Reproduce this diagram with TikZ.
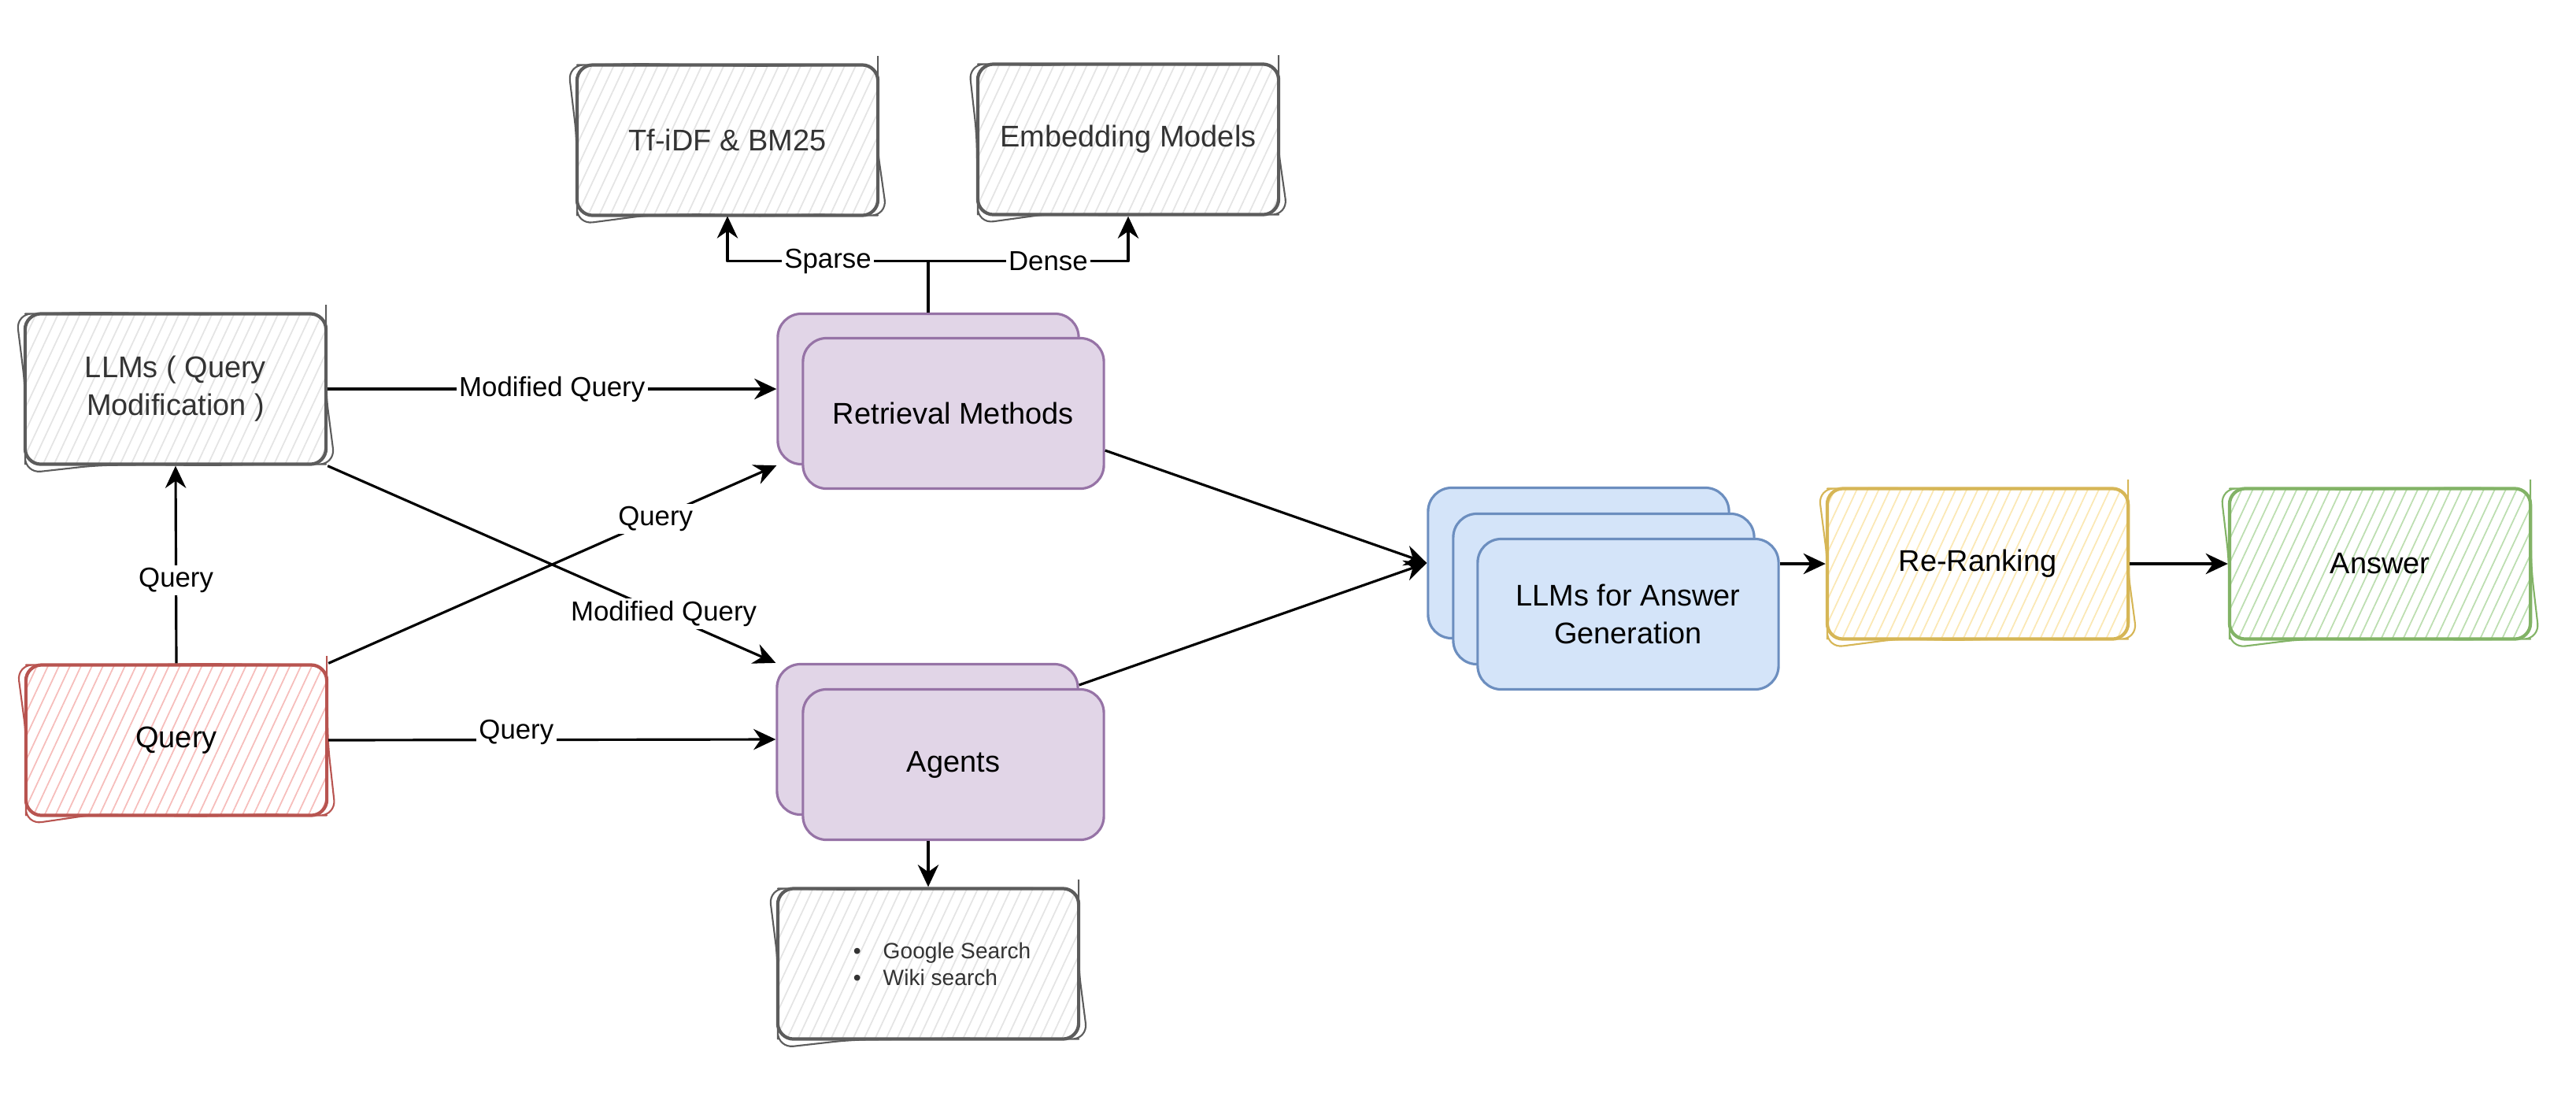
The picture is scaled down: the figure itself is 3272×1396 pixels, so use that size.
\documentclass[tikz,border=0pt]{standalone}
\usepackage{fontspec}
\setmainfont{Liberation Sans}
\usetikzlibrary{arrows.meta,patterns.meta,decorations.pathmorphing}
\definecolor{grayline}{HTML}{5C5C5C}
\definecolor{grayhatch}{HTML}{E4E4E4}
\definecolor{redline}{HTML}{B85450}
\definecolor{redhatch}{HTML}{F6BDBB}
\definecolor{purpleline}{HTML}{9673A6}
\definecolor{purplefill}{HTML}{E1D5E7}
\definecolor{blueline}{HTML}{6C8EBF}
\definecolor{bluefill}{HTML}{D4E4F9}
\definecolor{yellowline}{HTML}{D6B656}
\definecolor{yellowhatch}{HTML}{FBE8B4}
\definecolor{greenline}{HTML}{82B366}
\definecolor{greenhatch}{HTML}{BCDEB0}
\definecolor{textgray}{HTML}{333333}
\begin{document}
\pgfmathsetseed{12}
\begin{tikzpicture}[x=0.01cm,y=-0.01cm,>={Stealth[length=8pt,width=7.5pt]},line join=round,
	box/.style={minimum width=3.82cm,minimum height=1.91cm,inner sep=0pt,align=center,font=\fontsize{10.8}{13.6}\selectfont},
	sketch/.style 2 args={box,draw=#1,line width=1.2pt,rounded corners=0.2cm,
		pattern={Lines[angle=65,distance=3.6pt,line width=0.5pt]},pattern color=#2,
		postaction={draw=#1,line width=0.6pt,decorate,decoration={random steps,segment length=20pt,amplitude=0.45pt}}},
	flat/.style 2 args={box,draw=#1,fill=#2,line width=0.9pt,rounded corners=0.3cm},
	lbl/.style={fill=white,inner sep=1pt,font=\fontsize{9.9}{12}\selectfont},
	link/.style={->,line width=0.9pt}]
	\useasboundingbox (0,0) rectangle (3272,1396);
	% search back ends
	\node[sketch={grayline}{grayhatch},text=textgray] (tfidf) at (924,178) {Tf-iDF \& BM25};
	\node[sketch={grayline}{grayhatch},text=textgray] (embed) at (1433,177) {Embedding Models};
	% inputs
	\node[sketch={grayline}{grayhatch},text=textgray] (llm) at (223,494) {LLMs ( Query\\Modification )};
	\node[sketch={redline}{redhatch}] (query) at (224,940) {Query};
	% stacked boxes
	\node[flat={purpleline}{purplefill}] (retB) at (1179,494) {};
	\node[flat={purpleline}{purplefill}] (ret) at (1211,525) {Retrieval Methods};
	\node[flat={purpleline}{purplefill}] (agB) at (1178,939) {};
	\node[flat={purpleline}{purplefill}] (ag) at (1211,971) {Agents};
	\node[sketch={grayline}{grayhatch},text=textgray,align=left,font=\fontsize{8}{9.7}\selectfont] (tools) at (1179,1224)
		{\hspace*{10pt}\textbullet\hspace{8pt}Google Search\\\hspace*{10pt}\textbullet\hspace{8pt}Wiki search};
	\node[flat={blueline}{bluefill}] (genB) at (2005,715) {};
	\node[flat={blueline}{bluefill}] (genM) at (2037,748) {};
	\node[flat={blueline}{bluefill}] (gen) at (2068,780) {LLMs for Answer\\Generation};
	% output
	\node[sketch={yellowline}{yellowhatch}] (rerank) at (2512,716) {Re-Ranking};
	\node[sketch={greenline}{greenhatch}] (answer) at (3023,716) {Answer};
	% connectors
	\draw[link] (query.north) -- node[lbl,pos=0.42]{Query} (llm.south);
	\draw[link] (llm.east) -- node[lbl]{Modified Query} (retB.west);
	\draw[link] (query.north east) -- node[lbl,pos=0.73]{Query} (retB.south west);
	\draw[link] (llm.south east) -- node[lbl,pos=0.75]{Modified Query} (agB.north west);
	\draw[link] (query.east) -- node[lbl,pos=0.42,yshift=0.1cm]{Query} (agB.west);
	\coordinate (split) at ([yshift=0.65cm]retB.north);
	\draw[line width=0.9pt] (retB.north) -- (split);
	\draw[link] (split) -| node[lbl,pos=0.25]{Sparse} (tfidf.south);
	\draw[link] (split) -| node[lbl,pos=0.3]{Dense} (embed.south);
	\draw[link] (ag.south -| tools.north) -- (tools.north);
	\draw[link] ([yshift=-0.47cm]ret.east) -- (genB.west);
	\draw[link] ([yshift=0.69cm]agB.east) -- (genB.west);
	\draw[link] (gen.east |- rerank.west) -- (rerank.west);
	\draw[link] (rerank.east) -- (answer.west);
\end{tikzpicture}
\end{document}
